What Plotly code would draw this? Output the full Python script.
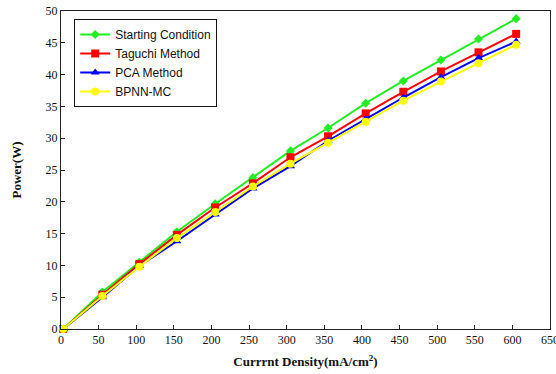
import plotly.graph_objects as go

current_density = [3, 55, 104, 154, 205, 255, 305, 355, 405, 455, 505, 555, 605]
starting_condition = [0, 5.8, 10.5, 15.3, 19.7, 23.8, 28.0, 31.6, 35.5, 39.0, 42.3, 45.6, 48.8]
taguchi_method = [0, 5.4, 10.2, 14.8, 19.1, 22.9, 27.0, 30.3, 33.9, 37.3, 40.5, 43.5, 46.4]
pca_method = [0, 5.0, 9.9, 13.8, 18.0, 22.1, 25.6, 29.6, 33.0, 36.4, 39.6, 42.6, 45.2]
bpnn_mc = [0, 5.2, 9.8, 14.3, 18.4, 22.4, 26.0, 29.3, 32.6, 35.9, 38.9, 41.8, 44.7]

x_ticks = list(range(0, 651, 50))
y_ticks = list(range(0, 51, 5))

series = [
    ("Starting Condition", starting_condition, "#22ee22", "diamond", 7),
    ("Taguchi Method", taguchi_method, "#ff0000", "square", 8),
    ("PCA Method", pca_method, "#0000ff", "triangle-up", 8),
    ("BPNN-MC", bpnn_mc, "#ffff00", "circle", 8),
]

fig = go.Figure()
for name, vals, color, sym, size in series:
    fig.add_trace(go.Scatter(
        x=current_density, y=vals, name=name, mode="lines+markers",
        line=dict(color=color, width=2),
        marker=dict(symbol=sym, size=size, color=color),
        cliponaxis=False,
    ))

axis_common = dict(
    showgrid=False, zeroline=False, showline=True, linecolor="#222222", linewidth=1,
    mirror=True, ticks="inside", ticklen=4, tickcolor="#222222", automargin=False,
    ticklabeloverflow="allow",
    tickfont=dict(family="Liberation Serif, Times New Roman, serif", size=12, color="#111111"),
)

fig.update_layout(
    width=556, height=374,
    margin=dict(l=61, r=6, t=11, b=45),
    paper_bgcolor="white", plot_bgcolor="white",
    xaxis=dict(range=[0, 650], tickvals=x_ticks, **axis_common,
               title=dict(text="<b>Currrnt Density(mA/cm<sup>2</sup>)</b>", standoff=10,
                          font=dict(family="Liberation Serif, Times New Roman, serif", size=13, color="#111111"))),
    yaxis=dict(range=[0, 50], tickvals=y_ticks, **axis_common,
               title=dict(text="<b>Power(W)</b>", standoff=21,
                          font=dict(family="Liberation Serif, Times New Roman, serif", size=13, color="#111111"))),
    legend=dict(x=0.027, y=0.975, xanchor="left", yanchor="top",
                bgcolor="white", bordercolor="#111111", borderwidth=1,
                font=dict(family="Liberation Sans, Arial, sans-serif", size=12, color="#111111"),
                tracegroupgap=0, itemwidth=30),
    showlegend=True,
)

fig.write_html("out.html", config={"displayModeBar": False},
               post_script="document.body.style.margin='0';")
